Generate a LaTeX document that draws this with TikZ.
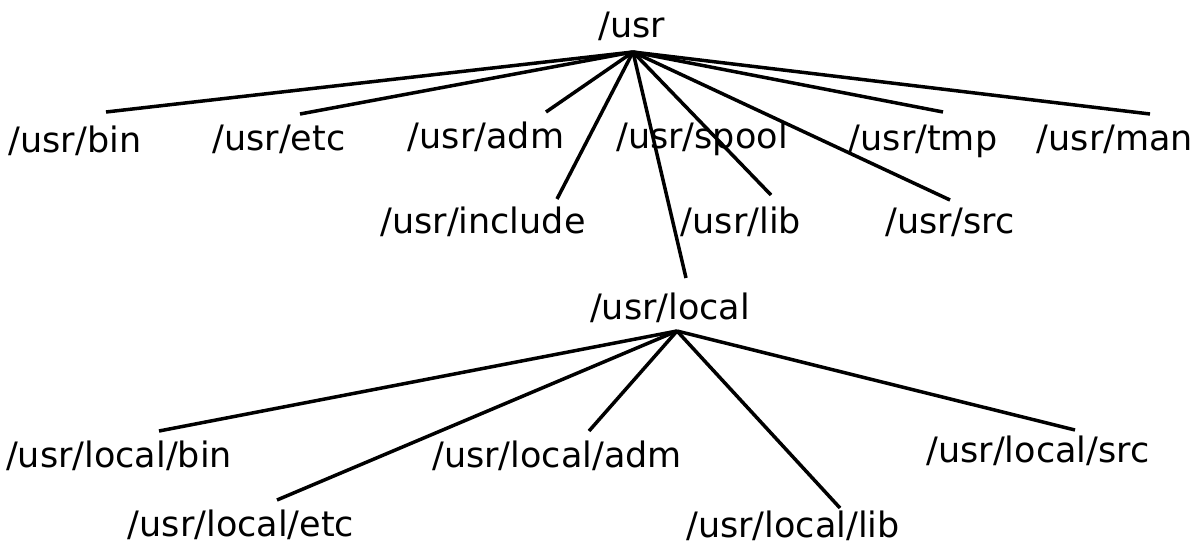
\documentclass[tikz,border=0pt]{standalone}
\usepackage{fontspec}
\setmainfont{DejaVu Sans}
\begin{document}
\begin{tikzpicture}[x=0.5pt,y=-0.5pt,
  lbl/.style={anchor=base,inner sep=0pt,font=\fontsize{17.5}{21}\selectfont},
  edge/.style={line width=1.75pt,line cap=butt}]
\useasboundingbox (0,0) rectangle (1198,546);
% labels
\node[lbl] (usr) at (632,37) {/usr};
\node[lbl] (bin) at (75,152) {/usr/bin};
\node[lbl] (etc) at (279,150) {/usr/etc};
\node[lbl] (adm) at (486,148) {/usr/adm};
\node[lbl] (spool) at (702,148) {/usr/spool};
\node[lbl] (tmp) at (923,150) {/usr/tmp};
\node[lbl] (man) at (1115,150) {/usr/man};
\node[lbl] (include) at (483,233) {/usr/include};
\node[lbl] (lib) at (741,233) {/usr/lib};
\node[lbl] (src) at (950,233) {/usr/src};
\node[lbl] (local) at (670,319) {/usr/local};
\node[lbl] (lbin) at (119,467) {/usr/local/bin};
\node[lbl] (ladm) at (557,467) {/usr/local/adm};
\node[lbl] (lsrc) at (1038,462) {/usr/local/src};
\node[lbl] (letc) at (241,536) {/usr/local/etc};
\node[lbl] (llib) at (793,537) {/usr/local/lib};
% connector ends
\coordinate (usr-j) at (633,52);
\coordinate (bin-t) at (106,112);
\coordinate (etc-t) at (300,114);
\coordinate (adm-t) at (546,112);
\coordinate (include-t) at (557,199);
\coordinate (local-t) at (686,278);
\coordinate (lib-t) at (771,195);
\coordinate (src-t) at (950,200);
\coordinate (tmp-t) at (943,112);
\coordinate (man-t) at (1150,114);
\coordinate (local-j) at (677,331);
\coordinate (lbin-t) at (159,431);
\coordinate (letc-t) at (277,500);
\coordinate (ladm-t) at (589,431);
\coordinate (llib-t) at (840,508);
\coordinate (lsrc-t) at (1075,430);
% connectors
\foreach \c in {bin,etc,adm,include,local,lib,src,tmp,man}
  \draw[edge] (usr-j) -- (\c-t);
\foreach \c in {lbin,letc,ladm,llib,lsrc}
  \draw[edge] (local-j) -- (\c-t);
\end{tikzpicture}
\end{document}
